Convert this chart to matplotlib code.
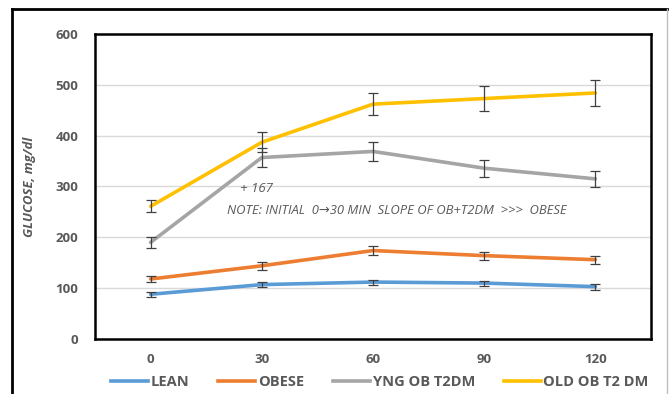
import matplotlib
matplotlib.use("Agg")
import matplotlib.pyplot as plt
from matplotlib.lines import Line2D

times = ["0", "30", "60", "90", "120"]
series_names = ["LEAN", "OBESE", "YNG OB T2DM", "OLD OB T2 DM"]
lean = [88, 107, 112, 110, 103]
obese = [118, 144, 174, 164, 156]
yng = [190, 357, 369, 336, 315]
old = [261, 387, 462, 473, 484]
lean_err = [5, 5, 5, 5, 6]
obese_err = [5, 8, 9, 8, 8]
yng_err = [10, 18, 18, 17, 16]
old_err = [12, 20, 22, 24, 25]
yticks = [0, 100, 200, 300, 400, 500, 600]

colors = ["#5B9BD5", "#ED7D31", "#A5A5A5", "#FFC000"]
text_col = "#595959"

plt.rcParams['font.family'] = ['Open Sans', 'DejaVu Sans']

fig = plt.figure(figsize=(6.71, 3.94), dpi=100)
ax = fig.add_axes([95/671, 1-339/394, (651-95)/671, (339-34)/394])

x = list(range(len(times)))
for vals, errs, c in zip([lean, obese, yng, old], [lean_err, obese_err, yng_err, old_err], colors):
    ax.plot(x, vals, color=c, lw=2.6, solid_capstyle='round', zorder=3)
    ax.errorbar(x, vals, yerr=errs, fmt='none', ecolor='#404040', elinewidth=0.9,
                capsize=3.5, capthick=0.9, zorder=4)

ax.set_xlim(-0.5, 4.5)
ax.set_ylim(0, 600)
ax.set_yticks(yticks)
ax.set_xticks(x)
ax.tick_params(axis='both', length=0)
ax.set_yticklabels([str(v) for v in yticks], fontsize=9.5, fontweight='bold', color=text_col)
ax.set_xticklabels(times, fontsize=9.5, fontweight='bold', color=text_col)
ax.tick_params(axis='y', pad=12)
ax.tick_params(axis='x', pad=10)
ax.grid(axis='y', color='#D9D9D9', lw=1, zorder=0)
ax.set_axisbelow(True)
for s in ax.spines.values():
    s.set_color('black')
    s.set_linewidth(1.8)

ax.set_ylabel("GLUCOSE, mg/dl", fontsize=9.5, fontweight='bold', fontstyle='italic',
              color=text_col)
ax.yaxis.set_label_coords(-0.106, 0.5)

fig.text(240/671, 1-189/394, "+ 167", fontsize=9.5, fontstyle='italic', color=text_col,
         va='center', ha='left')
fig.text(227/671, 1-211/394, "NOTE: INITIAL  0\u219230 MIN  SLOPE OF OB+T2DM  >>>  OBESE",
         fontsize=9.4, fontstyle='italic', color=text_col, va='center', ha='left')

handles = [Line2D([0], [0], color=c, lw=2.6) for c in colors]
leg = fig.legend(handles, series_names, loc='center', bbox_to_anchor=(380/671, 1-382/394),
                 ncol=4, frameon=False, handlelength=2.5, handletextpad=0.2,
                 columnspacing=2.0, prop={'weight': 'bold', 'size': 10.5})
for t in leg.get_texts():
    t.set_color(text_col)

# outer frame
fig.add_artist(Line2D([12/671, 12/671], [0, 1-9/394], color='black', lw=2, transform=fig.transFigure))
fig.add_artist(Line2D([12/671, 667/671], [1-9/394, 1-9/394], color='black', lw=2, transform=fig.transFigure))
fig.add_artist(Line2D([667/671, 667/671], [0, 1-9/394], color='#BFBFBF', lw=1, transform=fig.transFigure))

fig.savefig("out.png", dpi=100)
